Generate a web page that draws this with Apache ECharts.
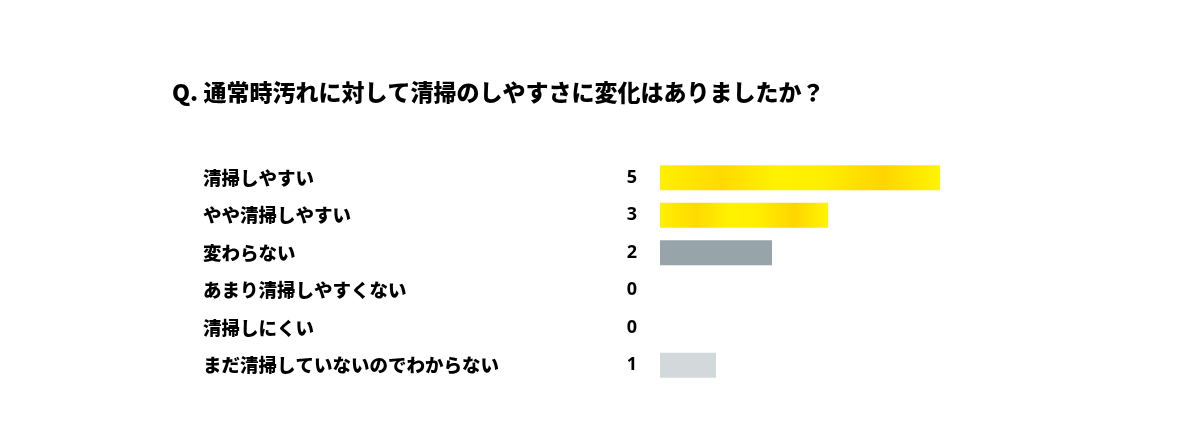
<!DOCTYPE html>
<html><head><meta charset="utf-8">
<script src="https://cdn.jsdelivr.net/npm/echarts@6/dist/echarts.min.js"></script>
<style>html,body{margin:0;padding:0;background:#fff}#c{width:1200px;height:444px}</style>
</head><body><div id="c"></div>
<script>
const title = 'Q. 通常時汚れに対して清掃のしやすさに変化はありましたか？';
const categories = ['清掃しやすい','やや清掃しやすい','変わらない','あまり清掃しやすくない','清掃しにくい','まだ清掃していないのでわからない'];
const values = [5, 3, 2, 0, 0, 1];

const gold = {type:'linear',x:0,y:0,x2:1,y2:0,colorStops:[
  {offset:0,color:'#FFF000'},{offset:0.22,color:'#FFDA00'},{offset:0.42,color:'#FFF200'},
  {offset:0.58,color:'#FFEE00'},{offset:0.8,color:'#FFD500'},{offset:1,color:'#FFF500'}]};
const barColors = [gold, gold, '#97A5AA', '#E0E4E6', '#E0E4E6', '#D3D9DB'];

const chart = echarts.init(document.getElementById('c'));
chart.setOption({
  animation:false,
  backgroundColor:'#fff',
  title:{text:title,left:167,top:76,textStyle:{fontFamily:'Noto Sans CJK JP',fontWeight:900,fontSize:23,color:'#000'}},
  grid:{left:660,right:36,top:159,bottom:60,containLabel:false},
  xAxis:{type:'value',min:0,max:9,show:false},
  yAxis:{type:'category',inverse:true,data:categories,
    axisLine:{show:false},axisTick:{show:false},splitLine:{show:false},
    axisLabel:{align:'left',margin:457,fontFamily:'Noto Sans CJK JP',fontWeight:900,fontSize:18.5,color:'#000'}},
  series:[{type:'bar',barWidth:25,
    data:values.map((v,i)=>({value:v,itemStyle:{color:barColors[i]}})),
    label:{show:true,position:'left',distance:23,formatter:p=>String(p.value),
      fontFamily:'Open Sans',fontWeight:'bold',fontSize:18,color:'#000'}}]
});
</script></body></html>
